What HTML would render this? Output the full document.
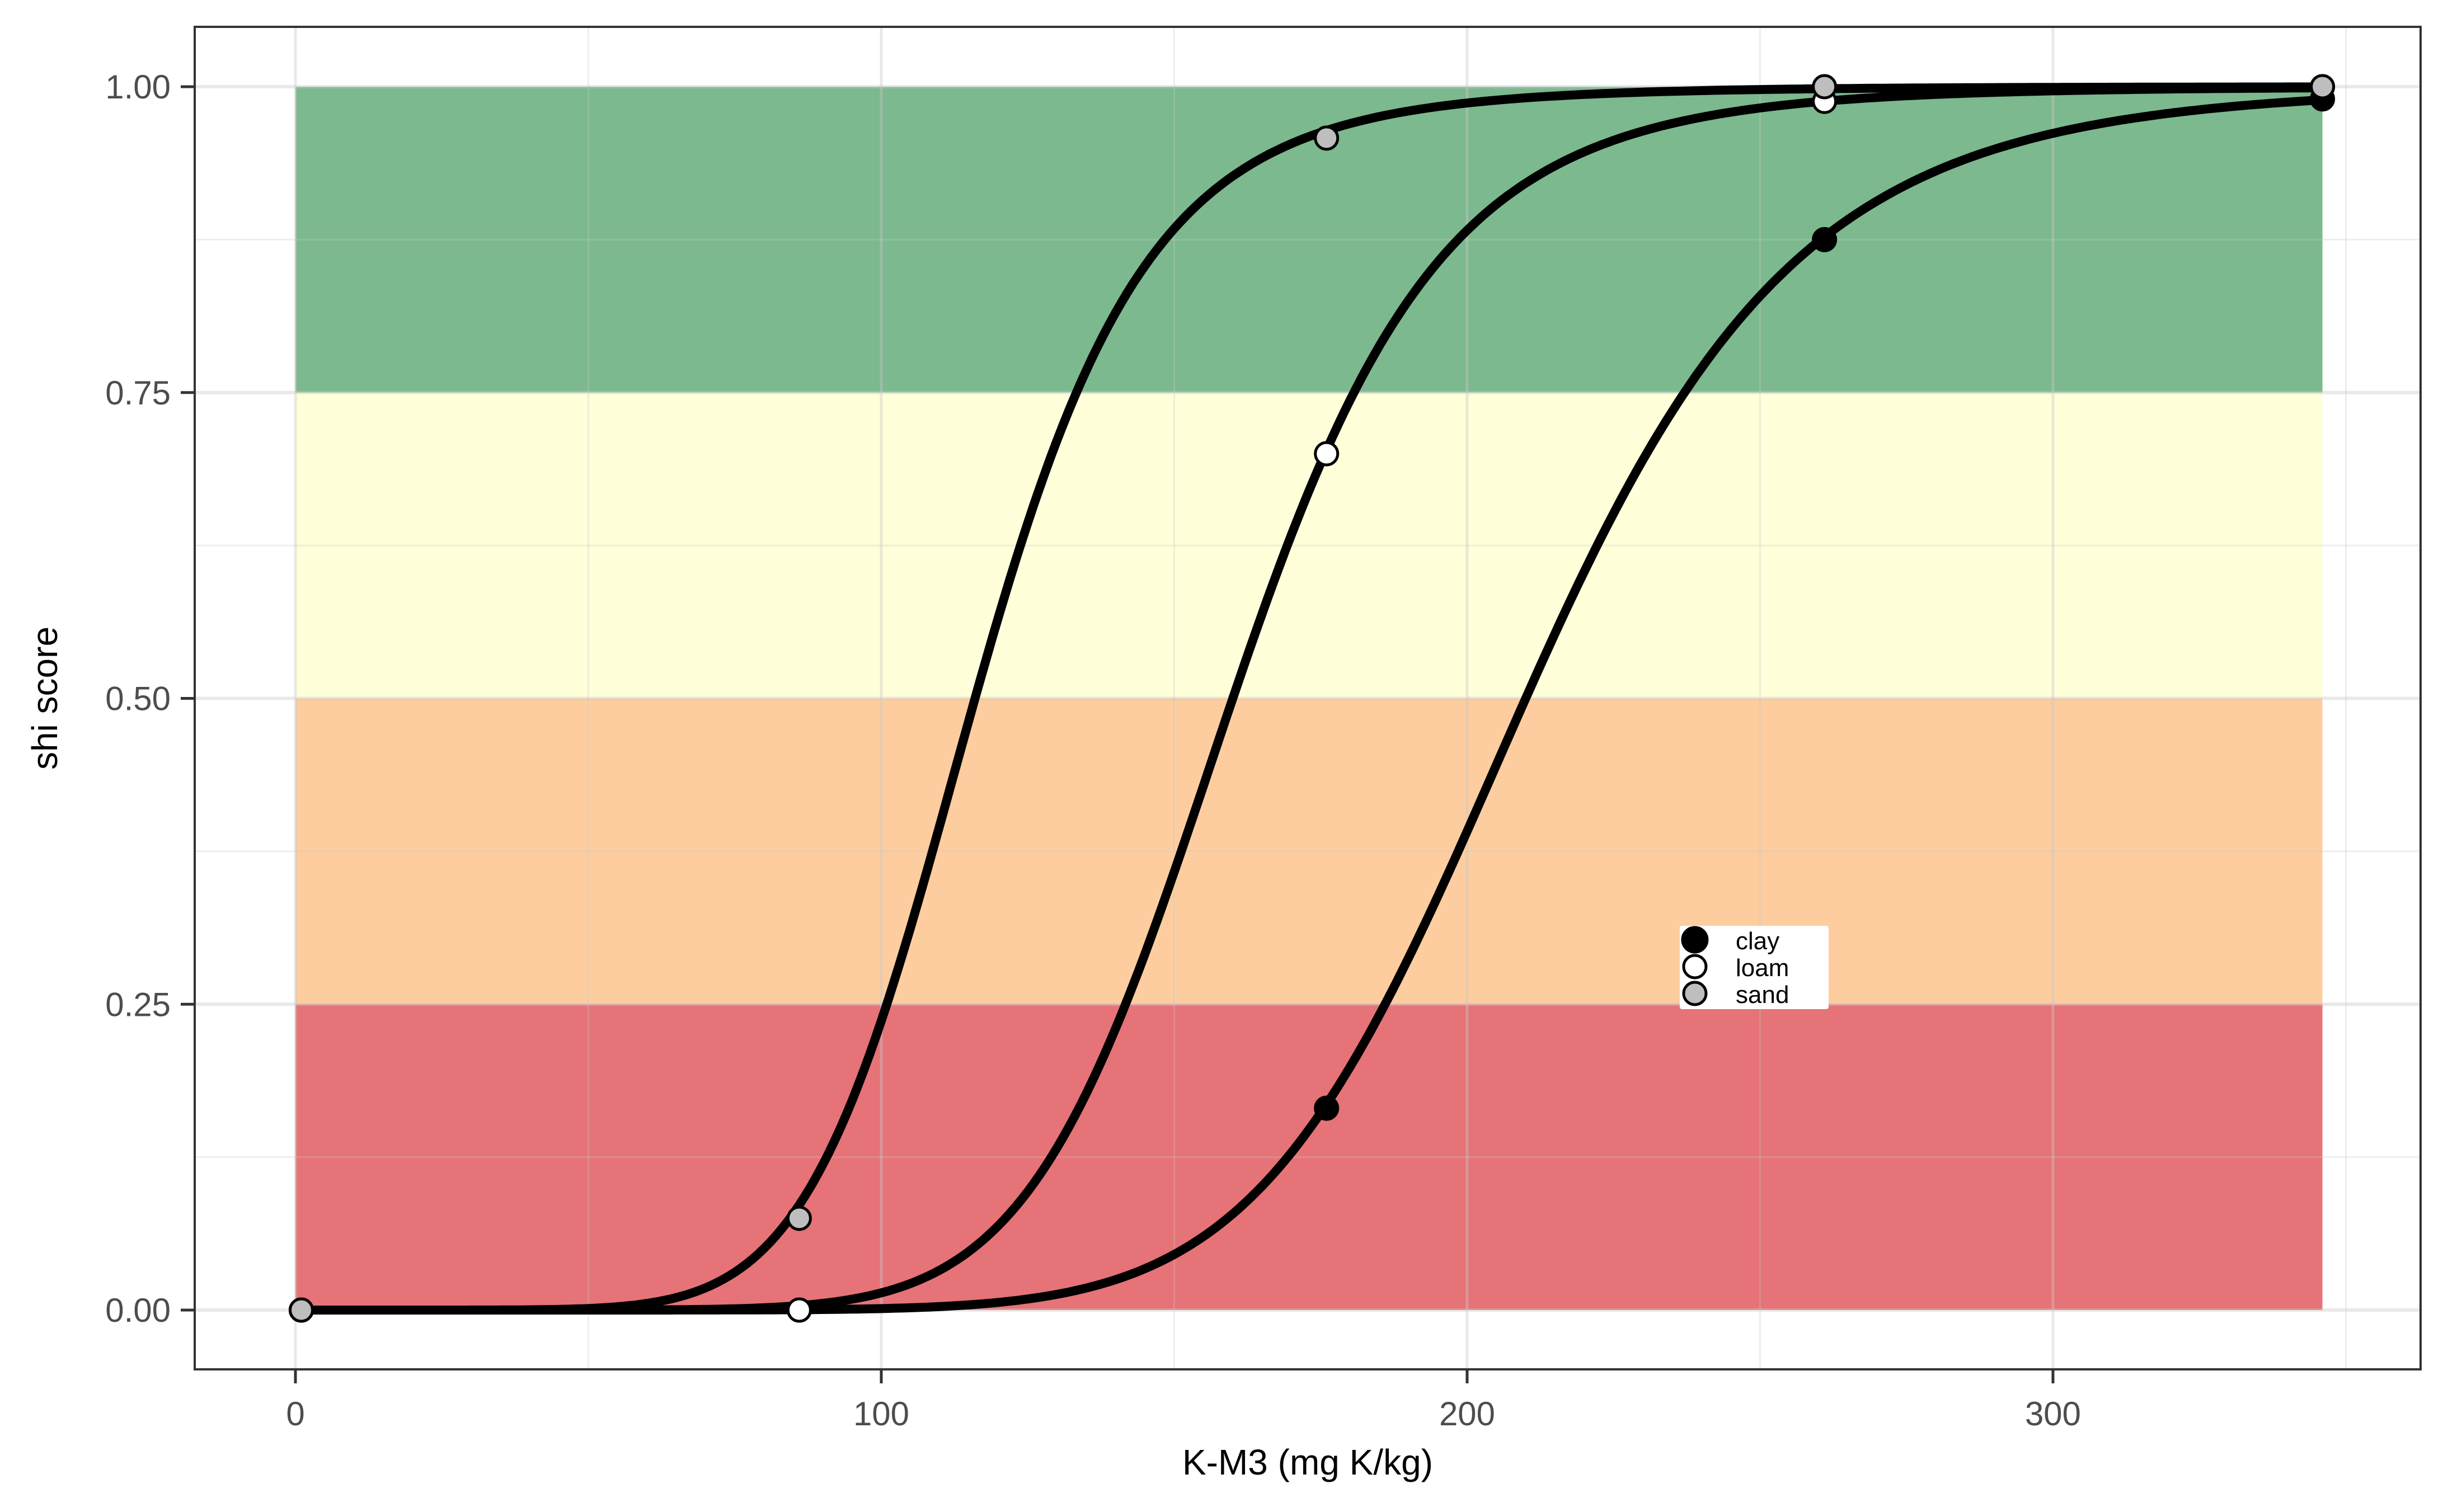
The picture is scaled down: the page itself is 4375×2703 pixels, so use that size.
<!DOCTYPE html>
<html><head><meta charset="utf-8">
<style>
html,body{margin:0;padding:0;background:#fff;}
svg{display:block;font-family:"Liberation Sans","DejaVu Sans",sans-serif;}
</style></head>
<body>
<svg id="chart" width="4375" height="2703" viewBox="0 0 4375 2703" xmlns="http://www.w3.org/2000/svg">
<rect x="0" y="0" width="4375" height="2703" fill="#fff"/>
<g id="bands"></g>
<g id="grid"></g>
<g id="curves"></g>
<g id="points"></g>
<rect x="348" y="48" width="3978" height="2400" fill="none" stroke="#333" stroke-width="4"/>
<g id="axes"></g>
<text x="2337" y="2636" font-size="64" text-anchor="middle" fill="#000">K-M3 (mg K/kg)</text>
<text transform="translate(102,1248) rotate(-90)" font-size="64" text-anchor="middle" fill="#000">shi score</text>
<g>
  <rect x="3002" y="1655" width="266" height="149" rx="4" fill="#fff"/>
  <g>
    <circle cx="3029" cy="1680" r="22" fill="#000" stroke="#000" stroke-width="5"/>
    <text x="3102" y="1697" font-size="44" fill="#000">clay</text>
  </g>
  <g>
    <circle cx="3029" cy="1728" r="20" fill="#fff" stroke="#000" stroke-width="5"/>
    <text x="3102" y="1745" font-size="44" fill="#000">loam</text>
  </g>
  <g>
    <circle cx="3029" cy="1776" r="20" fill="#bebebe" stroke="#000" stroke-width="5"/>
    <text x="3102" y="1793" font-size="44" fill="#000">sand</text>
  </g>
</g>
</svg>
<script>
const soils = ["clay", "loam", "sand"];
const soilFill = ["#000000", "#ffffff", "#bebebe"];
const curveMidpoint = [210, 160, 116];
const curveSlope = [9.05, 9.04, 7.9];
const sampleX = [1, 86, 176, 261, 346];
const clayY = [0, 0, 0.165, 0.875, 0.99];
const loamY = [0, 0, 0.70, 0.988, 1.0];
const sandY = [0, 0.075, 0.958, 1.0, 1.0];
const bandLo = [0, 0.25, 0.5, 0.75];
const bandHi = [0.25, 0.5, 0.75, 1.0];
const bandColor = ["#e67377", "#fdcd9f", "#ffffda", "#7cb98e"];
const bandName = ["band-poor", "band-fair", "band-good", "band-excellent"];
const bandXMin = 0, bandXMax = 346;
const xTicks = [0, 100, 200, 300];
const xMinor = [50, 150, 250, 350];
const yTicks = [0, 0.25, 0.5, 0.75, 1.0];
const yTickLabels = ["0.00", "0.25", "0.50", "0.75", "1.00"];
const yMinor = [0.125, 0.375, 0.625, 0.875];

const NS = "http://www.w3.org/2000/svg";
const PL = 348, PR = 4326, PT = 48, PB = 2448;
function sx(v){ return 528 + v * 10.47; }
function sy(v){ return 2342 - v * 2187; }
function mk(tag, attrs, parent){
  const e = document.createElementNS(NS, tag);
  for (const k in attrs) e.setAttribute(k, attrs[k]);
  parent.appendChild(e);
  return e;
}
const bands = document.getElementById('bands');
for (let i = 0; i < bandLo.length; i++){
  const r = mk('rect', {x: sx(bandXMin), y: sy(bandHi[i]), width: sx(bandXMax) - sx(bandXMin), height: sy(bandLo[i]) - sy(bandHi[i]), fill: bandColor[i]}, bands);
  
  
}
const grid = document.getElementById('grid');
xMinor.forEach(v => {
  const l = mk('line', {x1: sx(v), x2: sx(v), y1: PT, y2: PB, stroke: 'rgba(200,200,200,0.3)', 'stroke-width': 3}, grid);
  
  
});
xTicks.forEach(v => {
  const l = mk('line', {x1: sx(v), x2: sx(v), y1: PT, y2: PB, stroke: 'rgba(200,200,200,0.4)', 'stroke-width': 5}, grid);
  
  
});
yMinor.forEach(v => {
  const l = mk('line', {x1: PL, x2: PR, y1: sy(v), y2: sy(v), stroke: 'rgba(200,200,200,0.3)', 'stroke-width': 3}, grid);
  
  
});
yTicks.forEach(v => {
  const l = mk('line', {x1: PL, x2: PR, y1: sy(v), y2: sy(v), stroke: 'rgba(200,200,200,0.4)', 'stroke-width': 6}, grid);
  
  
});
const curves = document.getElementById('curves');
for (let s = 0; s < soils.length; s++){
  let d = '';
  for (let x = sampleX[0]; x <= sampleX[sampleX.length - 1]; x += 1){
    const z = curveSlope[s] * (Math.log(x) - Math.log(curveMidpoint[s]));
    const y = 1 / (1 + Math.exp(-z));
    d += (d ? 'L' : 'M') + sx(x).toFixed(1) + ',' + sy(y).toFixed(1);
  }
  const p = mk('path', {d: d, fill: 'none', stroke: '#000', 'stroke-width': 16, 'stroke-linejoin': 'round', 'stroke-linecap': 'round'}, curves);
  
  
}
const pts = document.getElementById('points');
const series = [clayY, loamY, sandY];
for (let s = 0; s < soils.length; s++){
  for (let i = 0; i < sampleX.length; i++){
    const c = mk('circle', {cx: sx(sampleX[i]), cy: sy(series[s][i]), r: 20, fill: soilFill[s], stroke: '#000', 'stroke-width': 5}, pts);
    
    
  }
}
const axes = document.getElementById('axes');
xTicks.forEach(v => {
  const t = mk('line', {x1: sx(v), x2: sx(v), y1: PB, y2: PB + 25, stroke: '#333', 'stroke-width': 5}, axes);
  
  
  const lb = mk('text', {x: sx(v), y: 2548, 'font-size': 60, 'text-anchor': 'middle', fill: '#4d4d4d'}, axes);
  lb.textContent = String(v);
  
  
});
yTicks.forEach((v, i) => {
  const t = mk('line', {x1: PL - 25, x2: PL, y1: sy(v), y2: sy(v), stroke: '#333', 'stroke-width': 5}, axes);
  
  
  const lb = mk('text', {x: 305, y: sy(v) + 21, 'font-size': 60, 'text-anchor': 'end', fill: '#4d4d4d'}, axes);
  lb.textContent = yTickLabels[i];
  
  
});
</script>
</body></html>
